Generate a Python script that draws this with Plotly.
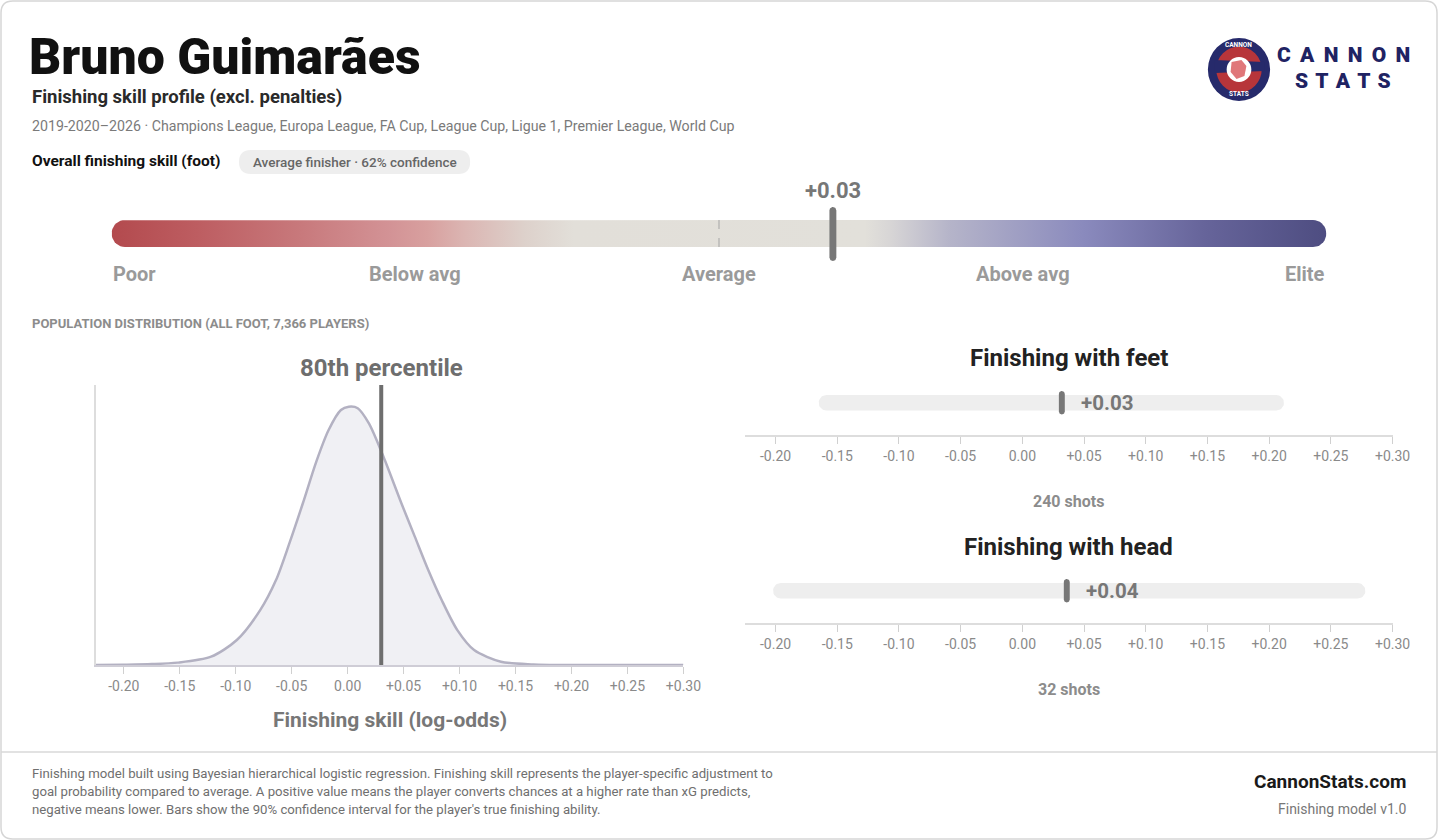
import numpy as np
import plotly.graph_objects as go

W, H = 1456, 840
FONT = "Roboto"

# ---- data ----
player_name = "Bruno Guimarães"
subtitle = "Finishing skill profile (excl. penalties)"
meta_line = ("2019-2020–2026 · Champions League, Europa League, FA Cup, League Cup, "
             "Ligue 1, Premier League, World Cup")
overall_label = "Overall finishing skill (foot)"
badge_text = "Average finisher · 62% confidence"

overall_value = 0.03
gauge_min, gauge_max = -0.16, 0.16
gauge_labels = ["Poor", "Below avg", "Average", "Above avg", "Elite"]
gauge_label_pos = [-0.16, -0.08, 0.0, 0.08, 0.16]

population_label = "POPULATION DISTRIBUTION (ALL FOOT, 7,366 PLAYERS)"
percentile_text = "80th percentile"
dist_x = [-0.225, -0.20, -0.175, -0.152, -0.122, -0.099, -0.078, -0.064, -0.052, -0.040,
          -0.028, -0.017, -0.006, 0.001, 0.009, 0.019, 0.032, 0.048, 0.060, 0.072,
          0.084, 0.098, 0.113, 0.137, 0.166, 0.20, 0.25, 0.30]
dist_y = [0.0, 0.01, 0.03, 0.08, 0.28, 0.84, 1.85, 2.85, 4.09, 5.43,
          6.83, 7.89, 8.56, 8.67, 8.62, 8.11, 6.99, 5.43, 4.31, 3.19,
          2.18, 1.17, 0.50, 0.11, 0.02, 0.0, 0.0, 0.0]

skill_names = ["Finishing with feet", "Finishing with head"]
skill_values = [0.032, 0.036]
ci_low = [-0.165, -0.202]
ci_high = [0.212, 0.278]
shots = [240, 32]

tick_values = [-0.20, -0.15, -0.10, -0.05, 0.0, 0.05, 0.10, 0.15, 0.20, 0.25, 0.30]
x_range = [-0.225, 0.30]

footer_lines = [
    "Finishing model built using Bayesian hierarchical logistic regression. Finishing skill represents the player-specific adjustment to",
    "goal probability compared to average. A positive value means the player converts chances at a higher rate than xG predicts,",
    "negative means lower. Bars show the 90% confidence interval for the player's true finishing ability.",
]
site_name = "CannonStats.com"
model_version = "Finishing model v1.0"

gauge_colors = [[0.0, "#b34a4e"], [0.07, "#bd5d61"], [0.15, "#c7777a"], [0.23, "#d39396"],
                [0.26, "#d8a09f"], [0.29, "#dbb5b2"], [0.34, "#ddd1cb"], [0.38, "#e2dfd9"],
                [0.62, "#e2e0da"], [0.64, "#d8d6d6"], [0.69, "#b5b4c9"], [0.80, "#8a8abd"],
                [0.90, "#66649a"], [1.0, "#4e4d81"]]


def px(x):
    return x / W


def py(y):
    return 1 - y / H


def rounded_box(x0, x1, y0, y1, kx, ky, n=10):
    # rounded rectangle in data units; kx/ky are pixels per data unit
    w = (x1 - x0) * kx
    h = (y1 - y0) * ky
    r = min(w, h) / 2
    rx, ry = r / kx, r / ky
    xs, ys = [], []
    corners = [(x1 - rx, y0 + ry, -np.pi / 2), (x1 - rx, y1 - ry, 0),
               (x0 + rx, y1 - ry, np.pi / 2), (x0 + rx, y0 + ry, np.pi)]
    for cx, cy, a0 in corners:
        a = np.linspace(a0, a0 + np.pi / 2, n)
        xs += list(cx + rx * np.cos(a))
        ys += list(cy + ry * np.sin(a))
    xs.append(xs[0])
    ys.append(ys[0])
    return xs, ys


def rr_path(x0, y0, x1, y1, r):
    # rounded rect path in paper coords from pixel values
    P = lambda x, y: f"{px(x):.5f},{py(y):.5f}"
    return (f"M{P(x0 + r, y0)} L{P(x1 - r, y0)} Q{P(x1, y0)} {P(x1, y0 + r)} "
            f"L{P(x1, y1 - r)} Q{P(x1, y1)} {P(x1 - r, y1)} L{P(x0 + r, y1)} "
            f"Q{P(x0, y1)} {P(x0, y1 - r)} L{P(x0, y0 + r)} Q{P(x0, y0)} {P(x0 + r, y0)} Z")


def fmt(v):
    return "0.00" if abs(v) < 1e-9 else f"{v:+.2f}"


fig = go.Figure()

# ---- overall gauge ----
kx_g = 1230 / (gauge_max - gauge_min)
gx, gy = rounded_box(gauge_min, gauge_max, -13.5, 13.5, kx_g, 1)
fig.add_trace(go.Scatter(x=gx, y=gy, mode="lines", fill="toself", line=dict(width=0),
                         fillgradient=dict(type="horizontal", colorscale=gauge_colors),
                         hoverinfo="skip", xaxis="x", yaxis="y"))
mx, my = rounded_box(overall_value - 3.5 / kx_g, overall_value + 3.5 / kx_g, -27.5, 26.5, kx_g, 1)
fig.add_trace(go.Scatter(x=mx, y=my, mode="lines", fill="toself", fillcolor="#777777",
                         line=dict(width=0), hoverinfo="skip", xaxis="x", yaxis="y"))

# ---- population distribution ----
fig.add_trace(go.Scatter(x=dist_x, y=dist_y, mode="lines", fill="tozeroy",
                         fillcolor="#f0f0f4", line=dict(color="#b3b1c2", width=2.5,
                                                        shape="spline", smoothing=0.8),
                         hoverinfo="skip", xaxis="x2", yaxis="y2"))

# ---- feet / head interval bars ----
kx_s = 656 / (x_range[1] - x_range[0])
for i in range(2):
    xa, ya = f"x{i + 3}", f"y{i + 3}"
    bx, by = rounded_box(ci_low[i], ci_high[i], 24.5, 40, kx_s, 1)
    fig.add_trace(go.Scatter(x=bx, y=by, mode="lines", fill="toself", fillcolor="#eeeeee",
                             line=dict(width=0), hoverinfo="skip", xaxis=xa, yaxis=ya))
    sx, sy = rounded_box(skill_values[i] - 3 / kx_s, skill_values[i] + 3 / kx_s, 20.5, 44, kx_s, 1)
    fig.add_trace(go.Scatter(x=sx, y=sy, mode="lines", fill="toself", fillcolor="#777777",
                             line=dict(width=0), hoverinfo="skip", xaxis=xa, yaxis=ya))

tick_text = [fmt(v) for v in tick_values]
hidden = dict(visible=False, fixedrange=True)
val_axis = dict(range=x_range, tickvals=tick_values, ticktext=tick_text, showgrid=False,
                zeroline=False, ticks="outside", ticklen=7, tickcolor="#d0d0d0",
                tickfont=dict(family=FONT, size=14, color="#8a8a8a"), fixedrange=True)

fig.update_layout(
    width=W, height=H, margin=dict(l=0, r=0, t=0, b=0),
    paper_bgcolor="white", plot_bgcolor="white", showlegend=False,
    font=dict(family=FONT, color="#333"),
    xaxis=dict(domain=[px(113), px(1343)], range=[gauge_min, gauge_max], **hidden),
    yaxis=dict(domain=[py(263.5), py(203.5)], range=[-30, 30], **hidden),
    xaxis2=dict(domain=[px(97), px(692)], anchor="y2", showline=True, linecolor="#cfcdd6",
                linewidth=1.5, **val_axis),
    yaxis2=dict(domain=[py(665), py(385)], range=[0, 9.4], anchor="x2", showline=True,
                linecolor="#dddddd", linewidth=1.5, showticklabels=False, showgrid=False,
                zeroline=False, fixedrange=True),
    xaxis3=dict(domain=[px(754), px(1410)], anchor="y3", showline=True, linecolor="#dddddd",
                linewidth=2, **val_axis),
    yaxis3=dict(domain=[py(435), py(375)], range=[0, 60], anchor="x3", **hidden),
    xaxis4=dict(domain=[px(754), px(1410)], anchor="y4", showline=True, linecolor="#dddddd",
                linewidth=2, **val_axis),
    yaxis4=dict(domain=[py(623), py(563)], range=[0, 60], anchor="x4", **hidden),
)

shapes = []
# page frame and footer rule
shapes.append(dict(type="path", path=rr_path(1, 1, 1455, 839, 12), xref="paper", yref="paper",
                   line=dict(color="#d6d6d6", width=1.5), layer="below"))
shapes.append(dict(type="line", xref="paper", yref="paper", x0=px(1), x1=px(1455),
                   y0=py(752), y1=py(752), line=dict(color="#d9d9d9", width=1.5)))
# badge
shapes.append(dict(type="path", path=rr_path(242, 150, 476, 174, 12), xref="paper", yref="paper",
                   fillcolor="#eeeeee", line=dict(width=0), layer="below"))
# average dashed line on gauge
shapes.append(dict(type="line", xref="x", yref="y", x0=0, x1=0, y0=-13.5, y1=13.5,
                   line=dict(color="#a5a5a5", width=1, dash="dash")))
# player line on distribution
shapes.append(dict(type="line", xref="x2", yref="y2 domain", x0=overall_value, x1=overall_value,
                   y0=0, y1=1, line=dict(color="#6e6e6e", width=4)))


# logo
def circle(cx, cy, r, color):
    return dict(type="circle", xref="paper", yref="paper", x0=px(cx - r), x1=px(cx + r),
                y0=py(cy + r), y1=py(cy - r), fillcolor=color, line=dict(width=0))


LOGO_NAVY = "#262a6b"
shapes.append(circle(1254.5, 69.5, 31.5, LOGO_NAVY))
shapes.append(circle(1254.5, 69.5, 23, "#b7353a"))
# cannon barrel across the badge
shapes.append(dict(type="path", xref="paper", yref="paper", fillcolor=LOGO_NAVY, line=dict(width=0),
                   path=(f"M{px(1230):.5f},{py(60):.5f} L{px(1280):.5f},{py(62):.5f} "
                         f"L{px(1280):.5f},{py(71):.5f} L{px(1230):.5f},{py(73):.5f} Z")))
shapes.append(circle(1254.5, 69.5, 12.5, "#ffffff"))
shapes.append(dict(type="path", xref="paper", yref="paper", fillcolor="#e0777a", line=dict(width=0),
                   path=(f"M{px(1247):.5f},{py(62):.5f} L{px(1257):.5f},{py(60):.5f} "
                         f"L{px(1262):.5f},{py(66):.5f} L{px(1260):.5f},{py(76):.5f} "
                         f"L{px(1252):.5f},{py(79):.5f} L{px(1246):.5f},{py(72):.5f} Z")))
fig.update_layout(shapes=shapes)


def note(text, x, y, size, color, weight="normal", xanchor="left", xref="paper", xshift=0):
    fig.add_annotation(text=text, x=x if xref != "paper" else px(x), y=py(y), xref=xref,
                       yref="paper", xanchor=xanchor, yanchor="middle", showarrow=False,
                       xshift=xshift, borderpad=0,
                       font=dict(family=FONT, size=size, color=color, weight=weight))


note(player_name, 28, 57, 50, "#111111", weight=900)
note(subtitle, 31, 97, 18.5, "#2a2a2a", weight="bold")
note(meta_line, 31, 126, 14.2, "#7a7a7a")
note(overall_label, 31, 161, 15.5, "#111111", weight="bold")
note(badge_text, 359, 162, 13.5, "#666666", weight=500, xanchor="center")

# gauge labels
note(fmt(overall_value), overall_value, 191, 22, "#777777", weight="bold", xanchor="center",
     xref="x")
for lbl, pos in zip(gauge_labels, gauge_label_pos):
    anchor = "left" if pos == gauge_min else ("right" if pos == gauge_max else "center")
    note(lbl, pos, 274, 20, "#9a9a9a", weight="bold", xanchor=anchor, xref="x")

# distribution texts
note(population_label, 31, 324, 13, "#8c8c8c", weight="bold")
note(percentile_text, overall_value, 368, 24, "#6e6e6e", weight="bold", xanchor="center",
     xref="x2")
note("Finishing skill (log-odds)", 394.5, 720, 21, "#777777", weight="bold", xanchor="center")

# skill panels
panel_title_y = [358, 547]
panel_value_y = [403, 591]
panel_shots_y = [501, 689]
for i in range(2):
    note(skill_names[i], 1082, panel_title_y[i], 24, "#222222", weight="bold", xanchor="center")
    note(fmt(skill_values[i]), skill_values[i], panel_value_y[i], 20.5, "#777777", weight="bold",
         xref=f"x{i + 3}", xshift=18)
    note(f"{shots[i]} shots", 1082, panel_shots_y[i], 16, "#8c8c8c", weight="bold",
         xanchor="center")

# logo text
note("C\u2004\u200aA\u2004\u200aN\u2004\u200aN\u2004\u200aO\u2004\u200aN", 1360, 55.5, 21,
     "#1f2363", weight=900, xanchor="center")
note("S\u2004T\u2004A\u2004T\u2004S", 1360, 80.5, 21, "#1f2363", weight=900, xanchor="center")
note("CANNON", 1254.5, 45, 6.5, "#ffffff", weight="bold", xanchor="center")
note("STATS", 1254.5, 94, 6.5, "#ffffff", weight="bold", xanchor="center")

# footer
for j, line in enumerate(footer_lines):
    note(line, 31, 773 + 18 * j, 13.2, "#6f6f6f")
note(site_name, 1425, 781, 19, "#1a1a1a", weight="bold", xanchor="right")
note(model_version, 1425, 809, 14, "#777777", xanchor="right")

fig.write_html("out.html", config={"displayModeBar": False},
               post_script="document.body.style.margin='0';document.body.style.overflow='hidden';")
